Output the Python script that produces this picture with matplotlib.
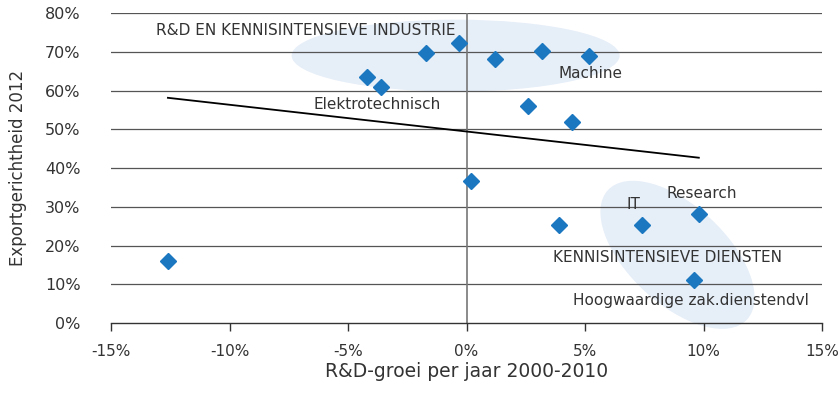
import matplotlib
matplotlib.use("Agg")
import numpy as np
from matplotlib import pyplot as plt
from matplotlib.patches import Ellipse
from matplotlib.transforms import Affine2D

# R&D-groei per jaar 2000-2010 (%) and exportgerichtheid 2012 (%)
rd_growth = [-12.6, -4.2, -3.6, -1.7, -0.3, 1.2, 3.2, 5.15, 2.6, 4.45, 0.2, 3.9, 7.4, 9.8, 9.6]
export_share = [16.0, 63.5, 61.0, 69.7, 72.3, 68.1, 70.2, 68.9, 56.0, 51.9, 36.6, 25.3, 25.3, 28.1, 11.1]

x_ticks = [-15, -10, -5, 0, 5, 10, 15]
y_ticks = [0, 10, 20, 30, 40, 50, 60, 70, 80]

labels = ["R&D EN KENNISINTENSIEVE INDUSTRIE", "Machine", "Elektrotechnisch",
          "Research", "IT", "KENNISINTENSIEVE DIENSTEN", "Hoogwaardige zak.dienstendvl"]
label_x = [-13.1, 3.9, -6.45, 8.45, 6.75, 3.65, 4.5]
label_y = [75.6, 64.3, 56.5, 33.5, 30.7, 17.0, 5.7]

text_col = "#333333"
plt.rcParams['font.family'] = ['DejaVu Sans']

fig = plt.figure(figsize=(8.38, 4.08), dpi=100)
ax = fig.add_axes([0.1325, 0.2083, 0.8485, 0.7598])
ax.set_xlim(-15, 15)
ax.set_ylim(0, 80)
ax.patch.set_visible(False)

# highlight ellipses, drawn in pixel space
fig.canvas.draw()
def pix_ellipse(cx, cy, w, h, angle):
    px, py = ax.transData.transform((cx, cy))
    e = Ellipse((0, 0), w, h, angle=angle, facecolor="#e6eef8", edgecolor="none",
                transform=Affine2D().translate(px, py), zorder=-1)
    fig.add_artist(e)

pix_ellipse(-0.46, 69.0, 328, 72, 0)
pix_ellipse(8.9, 17.6, 190, 98, -43)

for y in y_ticks[1:]:
    ax.axhline(y, color="#555555", lw=0.9, zorder=1)
ax.axvline(0, color="#777777", lw=1.2, zorder=1)

# trend line (least squares)
slope, icpt = np.polyfit(rd_growth, export_share, 1)
tx = np.array([min(rd_growth), max(rd_growth)])
ax.plot(tx, slope * tx + icpt, color="black", lw=1.3, zorder=2)

ax.plot(rd_growth, export_share, linestyle="none", marker="D", markersize=8.5,
        color="#1b78c0", markeredgecolor="#1b78c0", zorder=3)

for t, x, y in zip(labels, label_x, label_y):
    ax.text(x, y, t, fontsize=11, color=text_col, va="center", ha="left", zorder=4)

for s in ["top", "right", "left"]:
    ax.spines[s].set_visible(False)
ax.spines["bottom"].set_color("#333333")
ax.spines["bottom"].set_linewidth(1.0)

ax.set_xticks(x_ticks)
ax.set_xticklabels([f"{v}%" for v in x_ticks])
ax.set_yticks(y_ticks)
ax.set_yticklabels([f"{v}%" for v in y_ticks])
ax.tick_params(axis="x", length=6, width=1, color="#333333", pad=9,
               labelsize=11, labelcolor=text_col)
ax.tick_params(axis="y", length=0, pad=22, labelsize=11.5, labelcolor=text_col)

ax.set_xlabel("R&D-groei per jaar 2000-2010", fontsize=13.5, color=text_col, labelpad=2)
ax.set_ylabel("Exportgerichtheid 2012", fontsize=12, color=text_col, labelpad=13)

fig.savefig("out.png", dpi=100)
